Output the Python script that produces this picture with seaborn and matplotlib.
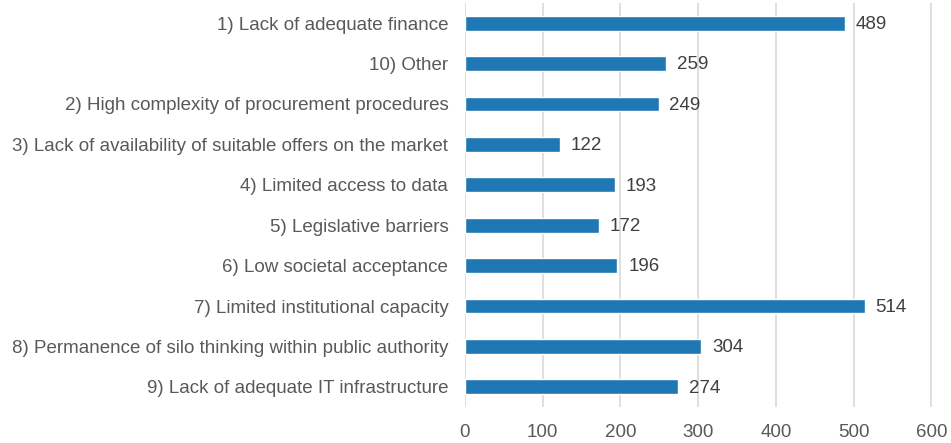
import matplotlib
matplotlib.use("Agg")
import matplotlib.pyplot as plt
import seaborn as sns
import pandas as pd

categories = [
    "1) Lack of adequate finance",
    "10) Other",
    "2) High complexity of procurement procedures",
    "3) Lack of availability of suitable offers on the market",
    "4) Limited access to data",
    "5) Legislative barriers",
    "6) Low societal acceptance",
    "7) Limited institutional capacity",
    "8) Permanence of silo thinking within public authority",
    "9) Lack of adequate IT infrastructure",
]
counts = [489, 259, 249, 122, 193, 172, 196, 514, 304, 274]
x_ticks = [0, 100, 200, 300, 400, 500, 600]

df = pd.DataFrame({"barrier": categories, "count": counts})

sns.set_theme(style="white")
plt.rcParams["font.family"] = ["Liberation Sans", "DejaVu Sans"]

text_color = "#595959"
bar_color = "#1f77b4"
fs = 13.5

fig = plt.figure(figsize=(9.51, 4.43), dpi=100)
ax = fig.add_axes([465 / 951, 36 / 443, 482 / 951, 404 / 443])

sns.barplot(data=df, y="barrier", x="count", orient="h", color=bar_color,
            width=0.37, saturation=1, ax=ax, zorder=3)

for i, v in enumerate(counts):
    ax.text(v + 14, i + 0.03, f"{v}", va="center", ha="left", fontsize=fs,
            color="#404040")

ax.set_xlim(0, 620)
ax.set_ylim(9.5, -0.5)
ax.set_xticks(x_ticks)
ax.xaxis.grid(True, color="#d9d9d9", linewidth=1.2, zorder=0)
ax.yaxis.grid(False)
for s in ax.spines.values():
    s.set_visible(False)
ax.set_xlabel("")
ax.set_ylabel("")
ax.tick_params(axis="both", length=0, labelsize=fs, colors=text_color)
ax.tick_params(axis="y", pad=12)
ax.tick_params(axis="x", pad=12)

fig.savefig("out.png", dpi=100)
